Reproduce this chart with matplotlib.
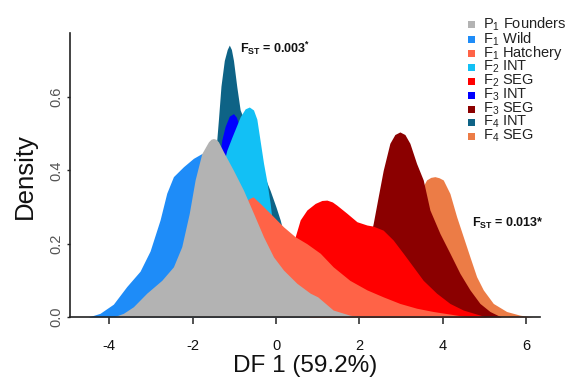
import matplotlib
matplotlib.use("Agg")
import matplotlib.pyplot as plt
from matplotlib.patches import Rectangle

plt.rcParams['font.family'] = ['Liberation Sans', 'DejaVu Sans']
plt.rcParams['mathtext.fontset'] = 'custom'
plt.rcParams['mathtext.rm'] = 'Liberation Sans'
plt.rcParams['mathtext.it'] = 'Liberation Sans:italic'
plt.rcParams['mathtext.bf'] = 'Liberation Sans:bold'

# ---------------- data ----------------
labels = [r'P$_1$ Founders', r'F$_1$ Wild', r'F$_1$ Hatchery', r'F$_2$ INT', r'F$_2$ SEG',
          r'F$_3$ INT', r'F$_3$ SEG', r'F$_4$ INT', r'F$_4$ SEG']
colors = ['#B3B3B3', '#1E8CF8', '#FF6347', '#12C0F5', '#FF0000',
          '#0000FF', '#8B0000', '#0E6386', '#EC7C46']

p1_founders_x = [-3.9, -3.66, -3.42, -3.10, -2.74, -2.46, -2.26, -2.08, -1.94, -1.78, -1.62, -1.56, -1.50,
                 -1.44, -1.38, -1.26, -1.02, -0.78, -0.54, -0.30, -0.06, 0.18, 0.50, 0.82, 1.00, 1.37, 1.77, 2.05]
p1_founders_y = [0.0, 0.01, 0.028, 0.065, 0.10, 0.137, 0.192, 0.283, 0.374, 0.446, 0.478, 0.485, 0.487,
                 0.485, 0.478, 0.451, 0.40, 0.346, 0.283, 0.219, 0.164, 0.128, 0.092, 0.065, 0.055, 0.019, 0.005, 0.0]

f1_wild_x = [-4.5, -4.22, -3.9, -3.58, -3.26, -3.02, -2.78, -2.62, -2.46, -2.22, -1.98, -1.78, -1.6,
             -1.3, -1.0, -0.6, -0.2, 0.3, 0.8]
f1_wild_y = [0.0, 0.01, 0.035, 0.083, 0.125, 0.18, 0.265, 0.338, 0.383, 0.41, 0.433, 0.446, 0.45,
             0.40, 0.33, 0.22, 0.12, 0.04, 0.0]

f1_hatch_x = [-2.6, -2.0, -1.5, -1.0, -0.8, -0.66, -0.55, -0.38, -0.14, 0.18, 0.46, 0.74, 1.06, 1.37,
              1.77, 2.18, 2.57, 2.97, 3.37, 3.77, 4.17, 4.6]
f1_hatch_y = [0.0, 0.04, 0.12, 0.25, 0.30, 0.322, 0.328, 0.31, 0.283, 0.246, 0.219, 0.20, 0.174, 0.137,
              0.10, 0.074, 0.055, 0.037, 0.024, 0.015, 0.008, 0.0]

f2_int_x = [-2.5, -2.0, -1.6, -1.3, -1.18, -1.06, -0.86, -0.74, -0.64, -0.54, -0.46, -0.38, -0.30,
            -0.22, -0.14, -0.08, 0.0, 0.2, 0.5, 0.8]
f2_int_y = [0.0, 0.05, 0.2, 0.4, 0.455, 0.49, 0.546, 0.568, 0.573, 0.565, 0.54, 0.48, 0.42,
            0.37, 0.31, 0.25, 0.18, 0.08, 0.02, 0.0]

f2_seg_x = [-0.8, -0.3, 0.1, 0.46, 0.58, 0.74, 0.94, 1.1, 1.22, 1.35, 1.46, 1.70, 1.94, 2.18, 2.33,
            2.57, 2.81, 3.05, 3.29, 3.53, 3.85, 4.17, 4.49, 4.81, 5.05]
f2_seg_y = [0.0, 0.03, 0.12, 0.219, 0.265, 0.292, 0.31, 0.318, 0.319, 0.314, 0.305, 0.283, 0.26, 0.251, 0.248,
            0.237, 0.21, 0.174, 0.137, 0.10, 0.065, 0.037, 0.019, 0.008, 0.0]

f3_int_x = [-2.0, -1.6, -1.4, -1.30, -1.22, -1.12, -1.02, -0.95, -0.90, -0.8, -0.6, -0.3, 0.0, 0.4]
f3_int_y = [0.0, 0.2, 0.40, 0.483, 0.52, 0.548, 0.555, 0.545, 0.528, 0.48, 0.38, 0.2, 0.08, 0.0]

f3_seg_x = [0.8, 1.5, 2.0, 2.2, 2.33, 2.45, 2.57, 2.73, 2.85, 2.97, 3.09, 3.21, 3.37, 3.53, 3.69,
            3.93, 4.17, 4.41, 4.65, 4.89, 5.13, 5.4]
f3_seg_y = [0.0, 0.04, 0.12, 0.19, 0.255, 0.328, 0.40, 0.474, 0.498, 0.505, 0.498, 0.474, 0.419, 0.374, 0.292,
            0.228, 0.174, 0.119, 0.074, 0.037, 0.015, 0.0]

f4_int_x = [-2.3, -2.0, -1.75, -1.55, -1.47, -1.43, -1.38, -1.32, -1.24, -1.17, -1.12, -1.07, -1.02,
            -0.94, -0.86, -0.7, -0.5, -0.3, -0.14, 0.0, 0.1, 0.2, 0.4, 0.7, 1.0]
f4_int_y = [0.0, 0.04, 0.15, 0.33, 0.42, 0.47, 0.54, 0.63, 0.70, 0.73, 0.742, 0.73, 0.70,
            0.628, 0.565, 0.52, 0.45, 0.39, 0.345, 0.30, 0.265, 0.22, 0.12, 0.03, 0.0]

f4_seg_x = [2.0, 2.5, 3.0, 3.4, 3.61, 3.71, 3.81, 3.91, 4.01, 4.17, 4.33, 4.49, 4.65, 4.81, 4.97,
            5.21, 5.53, 5.85, 6.15]
f4_seg_y = [0.0, 0.03, 0.15, 0.33, 0.374, 0.381, 0.383, 0.38, 0.374, 0.337, 0.274, 0.219, 0.164, 0.11, 0.074,
            0.037, 0.015, 0.005, 0.0]

x_ticks = [-4, -2, 0, 2, 4, 6]
y_ticks = [0.0, 0.2, 0.4, 0.6]
y_tick_labels = ['0.0', '0.2', '0.4', '0.6']

series_x = [p1_founders_x, f1_wild_x, f1_hatch_x, f2_int_x, f2_seg_x, f3_int_x, f3_seg_x, f4_int_x, f4_seg_x]
series_y = [p1_founders_y, f1_wild_y, f1_hatch_y, f2_int_y, f2_seg_y, f3_int_y, f3_seg_y, f4_int_y, f4_seg_y]

# ---------------- figure ----------------
W, H = 571, 378
fig = plt.figure(figsize=(W / 100, H / 100), dpi=100)
ax = fig.add_axes([70 / W, 1 - 317 / H, (540 - 70) / W, (317 - 33) / H])

# draw bottom layer first (reverse legend order)
for i in reversed(range(len(labels))):
    ax.fill_between(series_x[i], series_y[i], 0, color=colors[i], lw=0, zorder=2 + (len(labels) - i))

ax.set_xlim(-4.94, 6.33)
ax.set_ylim(0, 0.775)
for s in ['top', 'right']:
    ax.spines[s].set_visible(False)
for s in ['left', 'bottom']:
    ax.spines[s].set_linewidth(1.2)
    ax.spines[s].set_color('#222222')
    ax.spines[s].set_zorder(20)

ax.set_xticks(x_ticks)
ax.set_xticklabels([str(t) for t in x_ticks], fontsize=10.5, color='#111111')
ax.tick_params(axis='x', direction='out', length=5, width=1.1, pad=11, color='#222222')
ax.set_yticks(y_ticks)
ax.set_yticklabels(y_tick_labels, rotation=90, va='center', fontsize=10.5, color='#555555')
ax.tick_params(axis='y', direction='out', length=2.5, width=1.0, pad=2.5, color='#222222')

fig.text(305 / W, 1 - 366 / H, 'DF 1 (59.2%)', ha='center', va='center', fontsize=17.5, color='#111111')
fig.text(25 / W, 1 - 176 / H, 'Density', ha='center', va='center', rotation=90, fontsize=18.5, color='#111111')

# FST annotations
ax.text(-0.86, 0.72, r'F$_{\mathbf{ST}}$ = 0.003$^{\mathbf{*}}$', fontsize=9, fontweight='bold',
        ha='left', va='baseline', color='#111111', zorder=30, clip_on=False)
ax.text(4.71, 0.246, r'F$_{\mathbf{ST}}$ = 0.013*', fontsize=9, fontweight='bold',
        ha='left', va='baseline', color='#111111', zorder=30, clip_on=False)

# legend (manual)
row_y = [24, 39, 53, 67, 81, 95, 109, 122, 136]
for i, lab in enumerate(labels):
    cy = row_y[i]
    fig.add_artist(Rectangle(((468) / W, 1 - (cy + 3.5) / H), 7 / W, 7 / H,
                             transform=fig.transFigure, color=colors[i], lw=0))
    fig.text(483 / W, 1 - cy / H, lab, ha='left', va='center', fontsize=10.5, color='#222222')

fig.savefig('out.png', dpi=100)
